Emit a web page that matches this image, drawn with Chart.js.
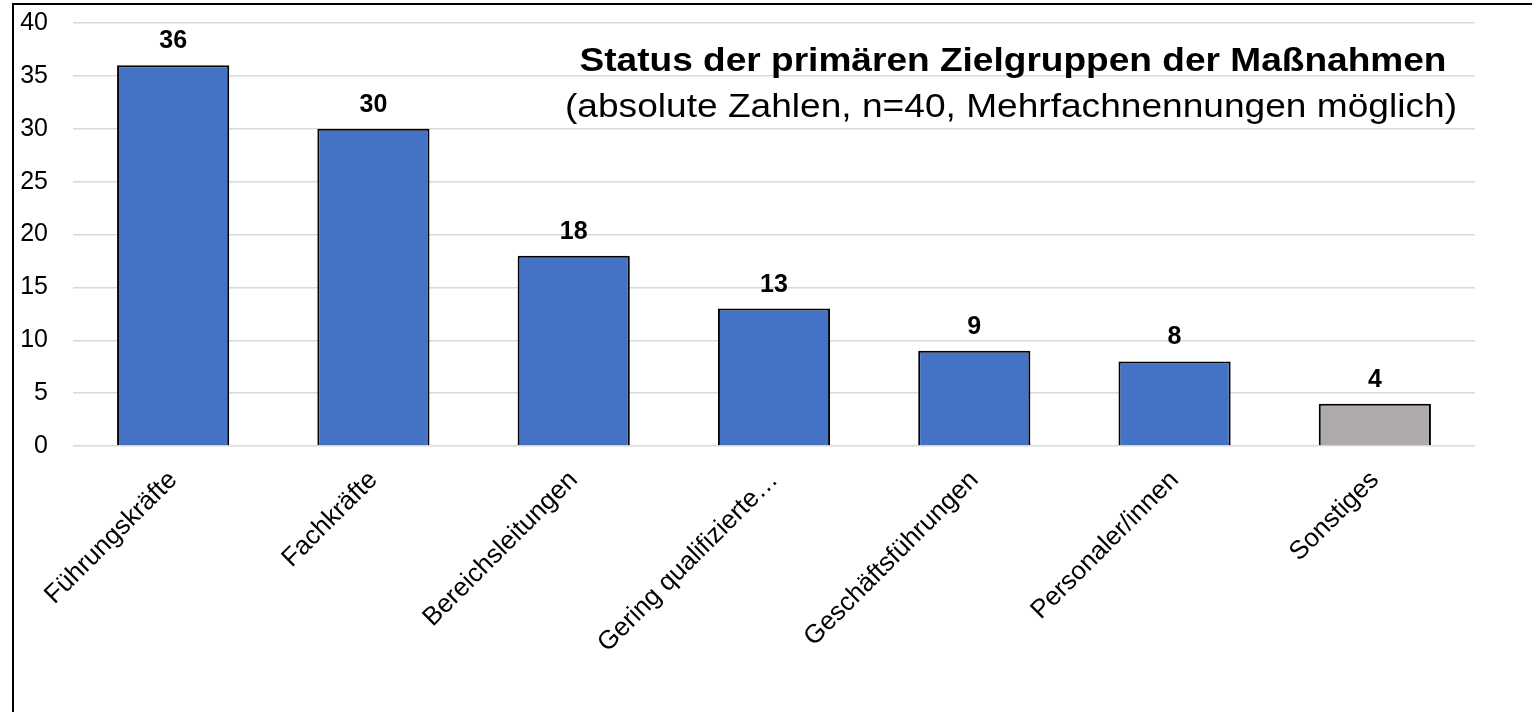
<!DOCTYPE html>
<html>
<head>
<meta charset="utf-8">
<script src="https://cdn.jsdelivr.net/npm/chart.js@4/dist/chart.umd.min.js"></script>
<style>
    html, body { margin: 0; padding: 0; background: #fff; }
    #wrap { width: 1532px; height: 712px; }
</style>
</head>
<body>
<div id="wrap"><canvas id="chart" width="1532" height="712"></canvas></div>
<script>
// Chart data
const categories = ['Führungskräfte', 'Fachkräfte', 'Bereichsleitungen', 'Gering qualifizierte…', 'Geschäftsführungen', 'Personaler/innen', 'Sonstiges'];
const counts = [36, 30, 18, 13, 9, 8, 4];
const yTicks = [0, 5, 10, 15, 20, 25, 30, 35, 40];
const titleText = 'Status der primären Zielgruppen der Maßnahmen';
const subtitleText = '(absolute Zahlen, n=40, Mehrfachnennungen möglich)';

const barColors = ['#4472C4', '#4472C4', '#4472C4', '#4472C4', '#4472C4', '#4472C4', '#AFABAB'];
const FONT = 'Arial, "Liberation Sans", sans-serif';

// draws text centred at x, stretched to a given width
function fitText(ctx, text, x, y, width) {
    const w = ctx.measureText(text).width;
    ctx.save();
    ctx.translate(x, y);
    ctx.scale(width / w, 1);
    ctx.fillText(text, 0, 0);
    ctx.restore();
}

// Frame, title and value labels
const decorations = {
    id: 'decorations',
    beforeDraw(chart) {
        const ctx = chart.ctx;
        ctx.save();
        ctx.fillStyle = '#fff';
        ctx.fillRect(0, 0, chart.width, chart.height);
        ctx.strokeStyle = '#000';
        ctx.lineWidth = 2;
        ctx.beginPath();
        ctx.moveTo(13, chart.height);
        ctx.lineTo(13, 4);
        ctx.lineTo(chart.width, 4);
        ctx.stroke();
        ctx.restore();
    },
    afterDatasetsDraw(chart) {
        const ctx = chart.ctx;
        ctx.save();
        ctx.fillStyle = '#000';
        ctx.textAlign = 'center';
        ctx.textBaseline = 'alphabetic';
        ctx.font = 'bold 25px ' + FONT;
        chart.getDatasetMeta(0).data.forEach((bar, i) => {
            ctx.fillText(String(counts[i]), bar.x, bar.y - 17);
        });
        ctx.font = 'bold 34px ' + FONT;
        fitText(ctx, titleText, 1013, 71, 867);
        ctx.font = '34px ' + FONT;
        fitText(ctx, subtitleText, 1011, 117, 892);
        ctx.restore();
    }
};

function createChart() {
    const ctx = document.getElementById('chart').getContext('2d');
    new Chart(ctx, {
        type: 'bar',
        data: {
            labels: categories,
            datasets: [{
                data: counts,
                backgroundColor: barColors,
                borderColor: '#000',
                borderWidth: 2,
                categoryPercentage: 1,
                barPercentage: 0.56
            }]
        },
        options: {
            responsive: false,
            animation: false,
            layout: { padding: { left: 13, right: 57, top: 23, bottom: 0 } },
            plugins: {
                legend: { display: false },
                tooltip: { enabled: false }
            },
            scales: {
                x: {
                    grid: { display: false, drawTicks: false },
                    border: { display: false },
                    ticks: {
                        color: '#000',
                        font: { family: FONT, size: 26 },
                        minRotation: 45,
                        maxRotation: 45,
                        padding: 19,
                        autoSkip: false
                    },
                    afterFit(scale) { scale.height = 266; }
                },
                y: {
                    min: 0,
                    max: 40,
                    afterBuildTicks(scale) { scale.ticks = yTicks.map(v => ({ value: v })); },
                    grid: { color: '#D9D9D9', lineWidth: 1.5, drawTicks: false },
                    border: { display: false },
                    ticks: {
                        color: '#000',
                        font: { family: FONT, size: 25 },
                        padding: 25
                    },
                    afterFit(scale) {
                        scale.width = 60;
                        scale.paddingTop = 0;
                        scale.paddingBottom = 0;
                    }
                }
            }
        },
        plugins: [decorations]
    });
}

window.onload = createChart;
</script>
</body>
</html>
